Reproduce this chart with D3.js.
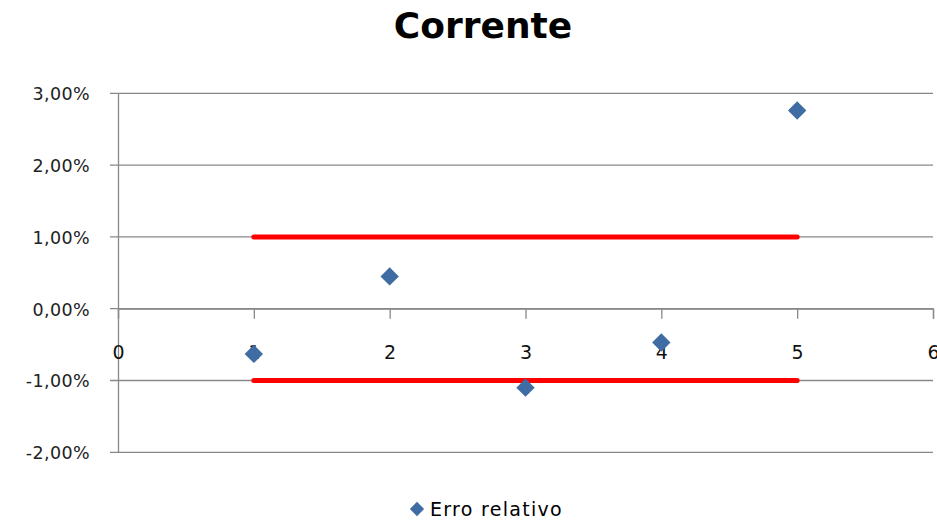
<!DOCTYPE html>
<html><head><meta charset="utf-8">
<script src="https://cdn.jsdelivr.net/npm/d3@7"></script>
<style>body{margin:0;background:#fff}</style>
</head><body>
<svg id="c" width="937" height="523"></svg>
<script>
const xValues = [1, 2, 3, 4, 5];
const erroRelativo = [-0.0063, 0.0045, -0.011, -0.0047, 0.0276];
const limitSuperior = [0.01, 0.01];
const limitInferior = [-0.01, -0.01];
const limitX = [1, 5];
const yTicks = [-0.02, -0.01, 0, 0.01, 0.02, 0.03];
const xTicks = [0, 1, 2, 3, 4, 5, 6];

const svg = d3.select("#c");
const font = "'DejaVu Sans', sans-serif";
const x = d3.scaleLinear().domain([0, 6]).range([118, 933]);
const y = d3.scaleLinear().domain([-0.02, 0.03]).range([452.3, 93.3]);
const fmt = v => d3.format(".2f")(v * 100).replace("\u2212", "-").replace(".", ",") + "%";

svg.append("text").attr("x", 483).attr("y", 38).attr("text-anchor", "middle")
  .attr("font-family", font).attr("font-weight", "bold").attr("font-size", 36).attr("fill", "#000").text("Corrente");

// gridlines
svg.append("g").selectAll("line").data(yTicks).join("line")
  .attr("x1", 110).attr("x2", x(6)).attr("y1", d => y(d)).attr("y2", d => y(d))
  .attr("stroke", "#888").attr("stroke-width", 1.3);

// y axis
const yAxis = d3.axisLeft(y).tickValues(yTicks).tickFormat(fmt).tickSize(0).tickPadding(28);
const gy = svg.append("g").attr("transform", `translate(${x(0)},0)`).call(yAxis);
gy.select(".domain").attr("stroke", "#888").attr("stroke-width", 1.3);
gy.selectAll("text").attr("font-family", font).attr("font-size", 17.5).attr("letter-spacing", 0.4)
  .attr("fill", "#222").attr("dy", "0.36em");

// x axis at 0
const xAxis = d3.axisBottom(x).tickValues(xTicks).tickFormat(d3.format("d")).tickSize(10).tickPadding(27);
const gx = svg.append("g").attr("transform", `translate(0,${y(0)})`).call(xAxis);
gx.select(".domain").attr("stroke", "#888").attr("stroke-width", 1.3);
gx.selectAll(".tick line").attr("stroke", "#888").attr("stroke-width", 1.3);
gx.selectAll("text").attr("font-family", font).attr("font-size", 19).attr("fill", "#111");

// limit lines
const line = d3.line().x((d, i) => x(limitX[i])).y(d => y(d));
[limitSuperior, limitInferior].forEach(arr => {
  svg.append("path").datum(arr).attr("d", line).attr("stroke", "#ff0000")
    .attr("stroke-width", 5).attr("stroke-linecap", "round").attr("fill", "none");
});

// markers
const diamond = d3.symbol().type(d3.symbolDiamond2).size(215);
svg.append("g").selectAll("path").data(erroRelativo).join("path")
  .attr("transform", (d, i) => `translate(${x(xValues[i])},${y(d)})`)
  .attr("d", diamond).attr("fill", "#3F6DA3");

// legend
svg.append("path").attr("transform", "translate(417,509)").attr("d", d3.symbol().type(d3.symbolDiamond2).size(130)()).attr("fill", "#3F6DA3");
svg.append("text").attr("x", 430).attr("y", 516).attr("font-family", font).attr("font-size", 19).attr("letter-spacing", 1.3).attr("fill", "#000").text("Erro relativo");
</script>
</body></html>
